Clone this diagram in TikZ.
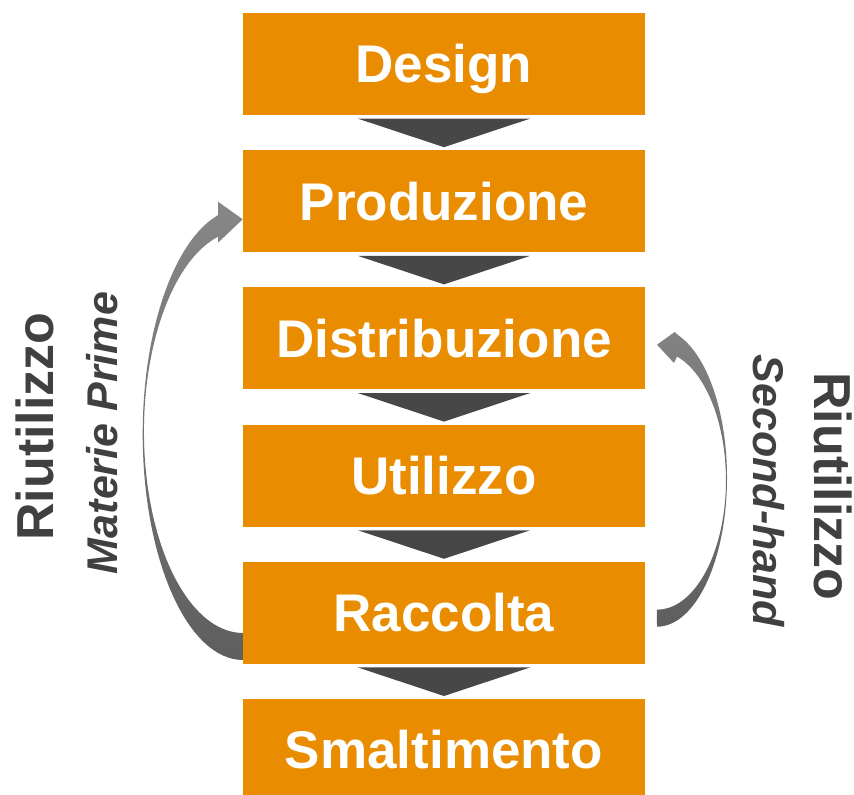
\documentclass[tikz,border=0pt]{standalone}
\usepackage{fontspec}
\setmainfont{Liberation Sans}
\usetikzlibrary{calc}
\definecolor{boxorange}{RGB}{234,140,0}
\definecolor{chevgray}{RGB}{71,71,71}
\definecolor{sidegray}{RGB}{64,64,64}
\begin{document}
\begin{tikzpicture}[x=1pt,y=1pt,
  stagebox/.style={rectangle, fill=boxorange, draw=none, minimum width=402pt, minimum height=102pt,
    inner sep=0pt, text height=38pt, text depth=0pt, text=white,
    font=\fontsize{53}{60}\selectfont\bfseries},
  chevron/.style={fill=chevgray, draw=none},
  bigside/.style={text=sidegray, inner sep=0pt, anchor=base, font=\fontsize{52}{60}\selectfont\bfseries},
  smallside/.style={text=sidegray, inner sep=0pt, anchor=base, font=\fontsize{43}{50}\selectfont\bfseries\itshape},
  loopshade/.style={draw=none, top color=#1, bottom color=black!63}
]
\useasboundingbox (0,0) rectangle (854,795);
\fill[white] (0,0) rectangle (854,795);

% curved return arrows
\path[loopshade=black!47] (243,135) arc[start angle=270, end angle=104.4, x radius=100.3, y radius=226]
  -- (218,593.3) -- (242.7,575.7) -- (218,552.3) -- (218,558.3)
  arc[start angle=104.6, end angle=270, x radius=99, y radius=201.4] -- cycle;
\path[loopshade=black!49] (657,168.3) arc[start angle=-90, end angle=71.7, x radius=70, y radius=149.2]
  -- (674.7,463) -- (657,450.3) -- (674,432) -- (677,438.5)
  arc[start angle=73.1, end angle=-90, x radius=69, y radius=129.4] -- cycle;

% stages
\begin{scope}
\clip (0,0) rectangle (854,795);
\node[stagebox] (design) at (444,731) {Design};
\node[stagebox] (prod) at (444,593.8) {Produzione};
\node[stagebox] (distr) at (444,456.6) {Distribuzione};
\node[stagebox] (util) at (444,319.4) {Utilizzo};
\node[stagebox] (racc) at (444,182.2) {Raccolta};
\node[stagebox] (smalt) at (444,45) {Smaltimento};
\end{scope}

% chevrons between stages
\foreach \a in {design,prod,distr,util,racc}{
  \fill[chevron] ($(\a.south)+(-86,-3.5)$) -- ($(\a.south)+(86,-3.5)$) -- ($(\a.south)+(0,-32)$) -- cycle;
}

% side labels
\node[bigside, rotate=90] (rl) at (53,368.5) {Riutilizzo};
\node[smallside, rotate=90] (ml) at (117.5,362) {Materie Prime};
\node[bigside, rotate=-90] (rr) at (814.5,308.5) {Riutilizzo};
\node[smallside, rotate=-90] (sr) at (753,304) {Second-hand};
\end{tikzpicture}
\end{document}
